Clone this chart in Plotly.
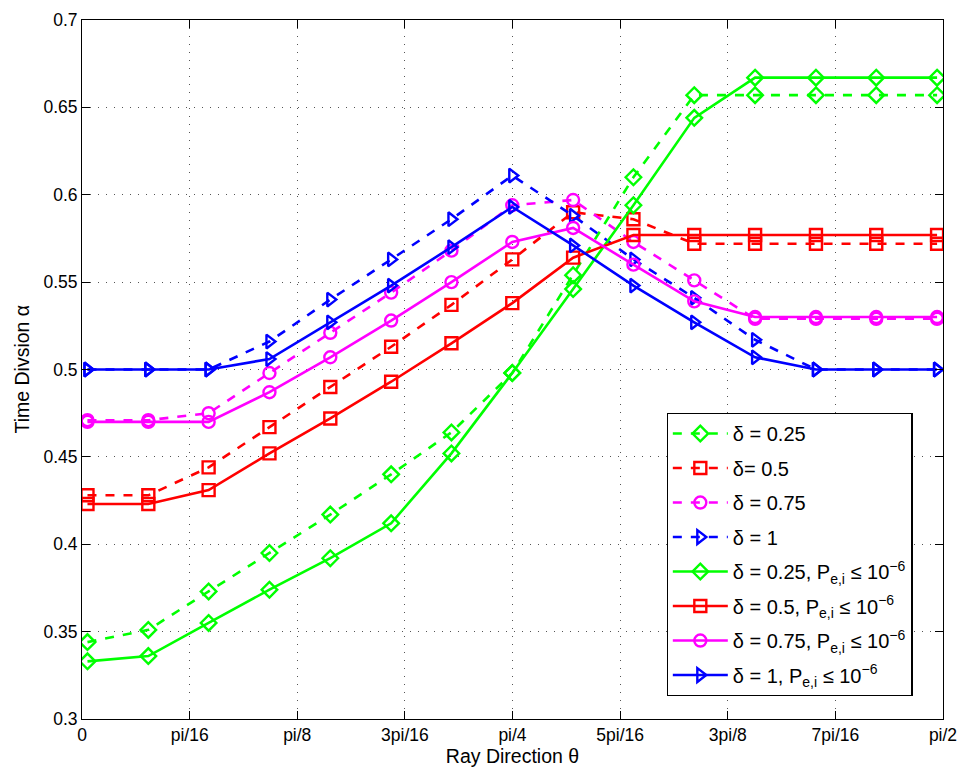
import plotly.graph_objects as go

theta = [0.010, 0.121, 0.231, 0.342, 0.453, 0.564, 0.674, 0.785,
         0.896, 1.006, 1.117, 1.228, 1.339, 1.449, 1.560]

d025 = [0.344, 0.351, 0.373, 0.395, 0.417, 0.440, 0.464, 0.498,
        0.554, 0.610, 0.657, 0.657, 0.657, 0.657, 0.657]
d050 = [0.428, 0.428, 0.444, 0.467, 0.490, 0.513, 0.537, 0.563,
        0.590, 0.586, 0.572, 0.572, 0.572, 0.572, 0.572]
d075 = [0.471, 0.471, 0.475, 0.498, 0.521, 0.544, 0.568, 0.594,
        0.597, 0.573, 0.551, 0.529, 0.529, 0.529, 0.529]
d100 = [0.500, 0.500, 0.500, 0.516, 0.540, 0.563, 0.586, 0.611,
        0.588, 0.563, 0.541, 0.517, 0.500, 0.500, 0.500]

p025 = [0.333, 0.336, 0.355, 0.374, 0.392, 0.412, 0.452, 0.498,
        0.546, 0.594, 0.644, 0.667, 0.667, 0.667, 0.667]
p050 = [0.423, 0.423, 0.431, 0.452, 0.472, 0.493, 0.515, 0.538,
        0.564, 0.577, 0.577, 0.577, 0.577, 0.577, 0.577]
p075 = [0.470, 0.470, 0.470, 0.487, 0.507, 0.528, 0.550, 0.573,
        0.581, 0.560, 0.539, 0.530, 0.530, 0.530, 0.530]
p100 = [0.500, 0.500, 0.500, 0.506, 0.527, 0.548, 0.570, 0.593,
        0.571, 0.548, 0.527, 0.507, 0.500, 0.500, 0.500]

tick_vals = [0, 0.19635, 0.392699, 0.589049, 0.785398, 0.981748, 1.178097, 1.374447, 1.570796]
tick_text = ["0", "pi/16", "pi/8", "3pi/16", "pi/4", "5pi/16", "3pi/8", "7pi/16", "pi/2"]

x_title = "Ray Direction θ"
y_title = "Time Divsion α"

GREEN = "#00ff00"
RED = "#ff0000"
MAG = "#ff00ff"
BLUE = "#0000ff"

series = [
    ("δ = 0.25", d025, GREEN, "diamond-open", "dash"),
    ("δ= 0.5", d050, RED, "square-open", "dash"),
    ("δ = 0.75", d075, MAG, "circle-open", "dash"),
    ("δ = 1", d100, BLUE, "triangle-right-open", "dash"),
    ("δ = 0.25, P<sub>e,i</sub> ≤ 10<sup>−6</sup>", p025, GREEN, "diamond-open", "solid"),
    ("δ = 0.5, P<sub>e,i</sub> ≤ 10<sup>−6</sup>", p050, RED, "square-open", "solid"),
    ("δ = 0.75, P<sub>e,i</sub> ≤ 10<sup>−6</sup>", p075, MAG, "circle-open", "solid"),
    ("δ = 1, P<sub>e,i</sub> ≤ 10<sup>−6</sup>", p100, BLUE, "triangle-right-open", "solid"),
]

fig = go.Figure()
for i, (name, ys, col, sym, dash) in enumerate(series):
    fig.add_trace(go.Scatter(
        x=theta, y=ys, name=name, mode="lines+markers", legendgroup=f"g{i}",
        line=dict(color=col, width=2.6, dash=dash),
        marker=dict(symbol=sym, size=12, color=col, line=dict(width=2.4, color=col)),
    ))

axis_common = dict(
    showline=True, linecolor="black", linewidth=1, mirror="ticks",
    ticks="inside", ticklen=8, tickcolor="black",
    showgrid=True, gridcolor="#555555", griddash="1px,7px", gridwidth=1.2,
    zeroline=False, tickfont=dict(size=17.5, color="black"), automargin=False,
)

fig.update_layout(
    width=962, height=771,
    margin=dict(l=82, r=19, t=20, b=52),
    paper_bgcolor="white", plot_bgcolor="white",
    font=dict(family="Liberation Sans, Arial, sans-serif", color="black", size=17),
    showlegend=True,
    legend=dict(
        x=0.679, y=0.438, xanchor="left", yanchor="top",
        bgcolor="white", bordercolor="black", borderwidth=1.2,
        font=dict(size=20), tracegroupgap=5.5, itemwidth=55,
    ),
    xaxis=dict(range=[0, 1.570796], tickvals=tick_vals, ticktext=tick_text,
               title=dict(text=x_title, font=dict(size=19.5), standoff=0),
               **axis_common),
    yaxis=dict(range=[0.3, 0.7], dtick=0.05, tickformat="~g", **axis_common),
    annotations=[dict(text=y_title, xref="paper", yref="paper", x=-0.0708, y=0.5,
                      xanchor="center", yanchor="middle", textangle=-90,
                      showarrow=False, font=dict(size=19.5))],
)

fig.write_html("out.html", config={"displayModeBar": False},
               post_script="document.body.style.margin='0';document.body.style.overflow='hidden';")
